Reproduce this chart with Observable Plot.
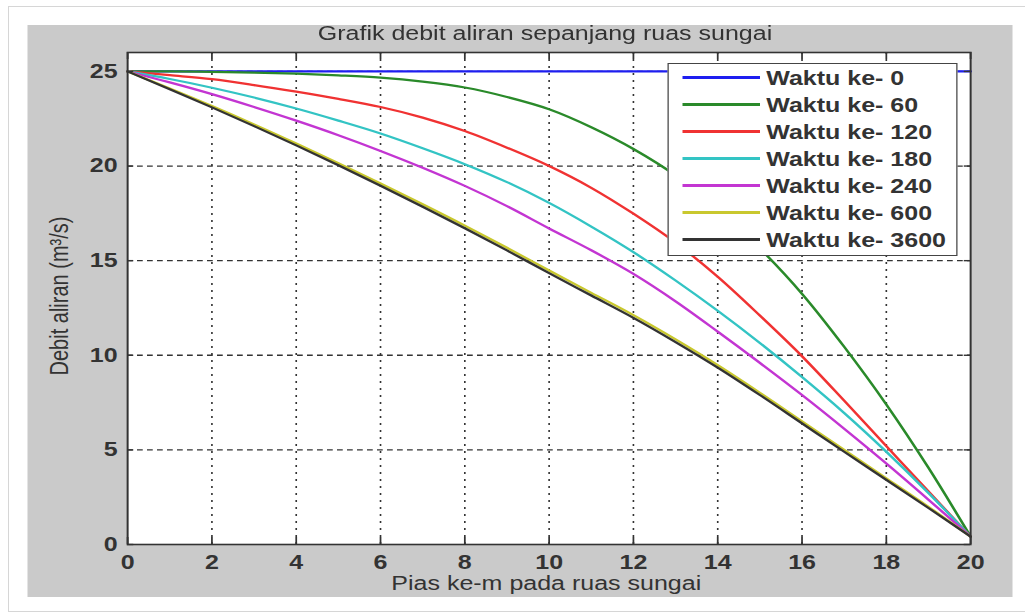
<!DOCTYPE html>
<html>
<head>
<meta charset="utf-8">
<script src="https://cdn.jsdelivr.net/npm/d3@7"></script>
<script src="https://cdn.jsdelivr.net/npm/@observablehq/plot@0.6"></script>
<style>
  html, body { margin: 0; padding: 0; background: #fff; }
  #page { position: relative; width: 1025px; height: 613px; overflow: hidden;
          font-family: "Liberation Sans", Arial, sans-serif; color: #333; }
  #border { position: absolute; left: 8px; top: 6px; width: 1040px; height: 606px;
            box-sizing: border-box; border: 1px solid #d6d6d6; }
  /* the figure is laid out in a narrower box and stretched sideways */
  #fig { position: absolute; left: 0; top: 0; width: 820px; height: 613px;
         transform: scaleX(1.25); transform-origin: 0 0; }
  #panel { position: absolute; left: 21.6px; top: 25px; width: 788px; height: 572px; background: #cacaca; }
  #chart { position: absolute; left: 0; top: 0; }
  .lbl { position: absolute; font-size: 20px; line-height: 20px; white-space: nowrap; color: #333; }
  #title { left: 436px; top: 22.5px; transform: translateX(-50%); }
  #xlabel { left: 437px; top: 573px; transform: translateX(-50%); }
  #ylabel { left: 47.2px; top: 296px; transform: translate(-50%, -50%) rotate(-90deg); }
  #legend { position: absolute; left: 534.4px; top: 63px; width: 232px; height: 193px;
            box-sizing: border-box; border: 1.5px solid #444; background: #fff; }
  .row { position: absolute; left: 0; height: 24px; display: flex; align-items: center; }
  .swatch { margin-left: 11px; width: 61.6px; height: 2.6px; }
  .row span { margin-left: 5px; font-size: 20px; line-height: 24px; font-weight: bold; color: #333; white-space: nowrap; }
</style>
</head>
<body>
<div id="page">
  <div id="border"></div>
  <div id="fig">
    <div id="panel"></div>
    <div id="chart"></div>
    <div class="lbl" id="title">Grafik debit aliran sepanjang ruas sungai</div>
    <div class="lbl" id="xlabel">Pias ke-m pada ruas sungai</div>
    <div class="lbl" id="ylabel">Debit aliran (m³/s)</div>
    <div id="legend"></div>
  </div>
</div>
<script>
// River reach segments (x) and discharge per time step (m³/s)
const piasKe = [0, 1, 2, 3, 4, 5, 6, 7, 8, 9, 10, 11, 12, 13, 14, 15, 16, 17, 18, 19, 20];

const waktu0    = [25, 25, 25, 25, 25, 25, 25, 25, 25, 25, 25, 25, 25, 25, 25, 25, 25, 25, 25, 25, 25];
const waktu60   = [25, 25, 24.98, 24.94, 24.88, 24.79, 24.67, 24.46, 24.15, 23.65, 23.0, 22.05, 20.9, 19.5, 17.75, 15.65, 13.25, 10.45, 7.4, 4.05, 0.42];
const waktu120  = [25, 24.8, 24.59, 24.28, 23.93, 23.55, 23.12, 22.56, 21.85, 20.97, 20.0, 18.85, 17.48, 15.95, 14.15, 12.1, 9.95, 7.6, 5.2, 2.8, 0.42];
const waktu180  = [25, 24.6, 24.14, 23.62, 23.04, 22.4, 21.72, 20.94, 20.1, 19.15, 18.05, 16.8, 15.45, 13.95, 12.35, 10.65, 8.85, 6.95, 4.9, 2.72, 0.42];
const waktu240  = [25, 24.42, 23.8, 23.12, 22.4, 21.63, 20.8, 19.91, 18.95, 17.88, 16.7, 15.55, 14.3, 12.85, 11.25, 9.6, 7.9, 6.12, 4.28, 2.37, 0.42];
const waktu600  = [25, 24.1, 23.17, 22.2, 21.19, 20.15, 19.08, 17.98, 16.85, 15.68, 14.48, 13.3, 12.12, 10.84, 9.48, 8.02, 6.51, 5.0, 3.5, 1.99, 0.42];
const waktu3600 = [25, 24.06, 23.1, 22.11, 21.09, 20.04, 18.96, 17.85, 16.71, 15.54, 14.34, 13.16, 11.98, 10.7, 9.35, 7.9, 6.4, 4.9, 3.42, 1.93, 0.42];

const seriesNames = ["Waktu ke- 0", "Waktu ke- 60", "Waktu ke- 120", "Waktu ke- 180",
                     "Waktu ke- 240", "Waktu ke- 600", "Waktu ke- 3600"];
const seriesValues = [waktu0, waktu60, waktu120, waktu180, waktu240, waktu600, waktu3600];
const seriesColors = ["#1e1ef0", "#2a8a2a", "#f03232", "#33c4c4", "#c335d2", "#c9c82e", "#333333"];

const xTicks = [0, 2, 4, 6, 8, 10, 12, 14, 16, 18, 20];
const yTicks = [0, 5, 10, 15, 20, 25];

// long table for the line mark
const rows = seriesNames.flatMap((name, i) =>
  piasKe.map((p, j) => ({series: name, pias: p, debit: seriesValues[i][j]})));

const W = 820, H = 613;
const mLeft = 101.6, mRight = 44, mTop = 52, mBottom = 69;
const plotW = W - mLeft - mRight, plotH = H - mTop - mBottom;
const ink = "#333";

const chart = Plot.plot({
  width: W, height: H,
  marginLeft: mLeft, marginRight: mRight, marginTop: mTop, marginBottom: mBottom,
  style: {background: "transparent", fontFamily: '"Liberation Sans", Arial, sans-serif',
          fontSize: "20px", fontWeight: "bold", color: ink, overflow: "visible"},
  x: {domain: [0, 20], label: null},
  y: {domain: [0, 26], label: null},
  color: {domain: seriesNames, range: seriesColors},
  marks: [
    Plot.frame({fill: "white", stroke: "none"}),
    Plot.gridY(yTicks.filter(d => d > 0), {stroke: ink, strokeOpacity: 1, strokeWidth: 1.3, strokeDasharray: "4.6,3.4"}),
    Plot.gridX(xTicks.filter(d => d > 0 && d < 20), {stroke: ink, strokeOpacity: 1, strokeWidth: 1.3, strokeDasharray: "2,5"}),
    Plot.line(rows, {x: "pias", y: "debit", z: "series", stroke: "series", strokeWidth: 2.2, curve: "monotone-x"}),
    Plot.frame({stroke: ink, strokeWidth: 1.6}),
    // inward tick marks on all four sides
    Plot.tickX(xTicks, {x: d => d, stroke: ink, strokeWidth: 1.4, insetTop: plotH - 7}),
    Plot.tickX(xTicks, {x: d => d, stroke: ink, strokeWidth: 1.4, insetBottom: plotH - 7}),
    Plot.tickY(yTicks, {y: d => d, stroke: ink, strokeWidth: 1.4, insetRight: plotW - 5}),
    Plot.tickY(yTicks, {y: d => d, stroke: ink, strokeWidth: 1.4, insetLeft: plotW - 5}),
    Plot.axisX(xTicks, {tickSize: 0, tickPadding: 10, fill: ink}),
    Plot.axisY(yTicks, {tickSize: 0, tickPadding: 8, fill: ink})
  ]
});
document.getElementById("chart").appendChild(chart);

// legend box
const legend = document.getElementById("legend");
seriesNames.forEach((name, i) => {
  const row = document.createElement("div");
  row.className = "row";
  row.style.top = (15 + 27 * i - 12 - 1.5) + "px";
  const sw = document.createElement("div");
  sw.className = "swatch";
  sw.style.background = seriesColors[i];
  const tx = document.createElement("span");
  tx.textContent = name;
  row.appendChild(sw);
  row.appendChild(tx);
  legend.appendChild(row);
});
</script>
</body>
</html>
